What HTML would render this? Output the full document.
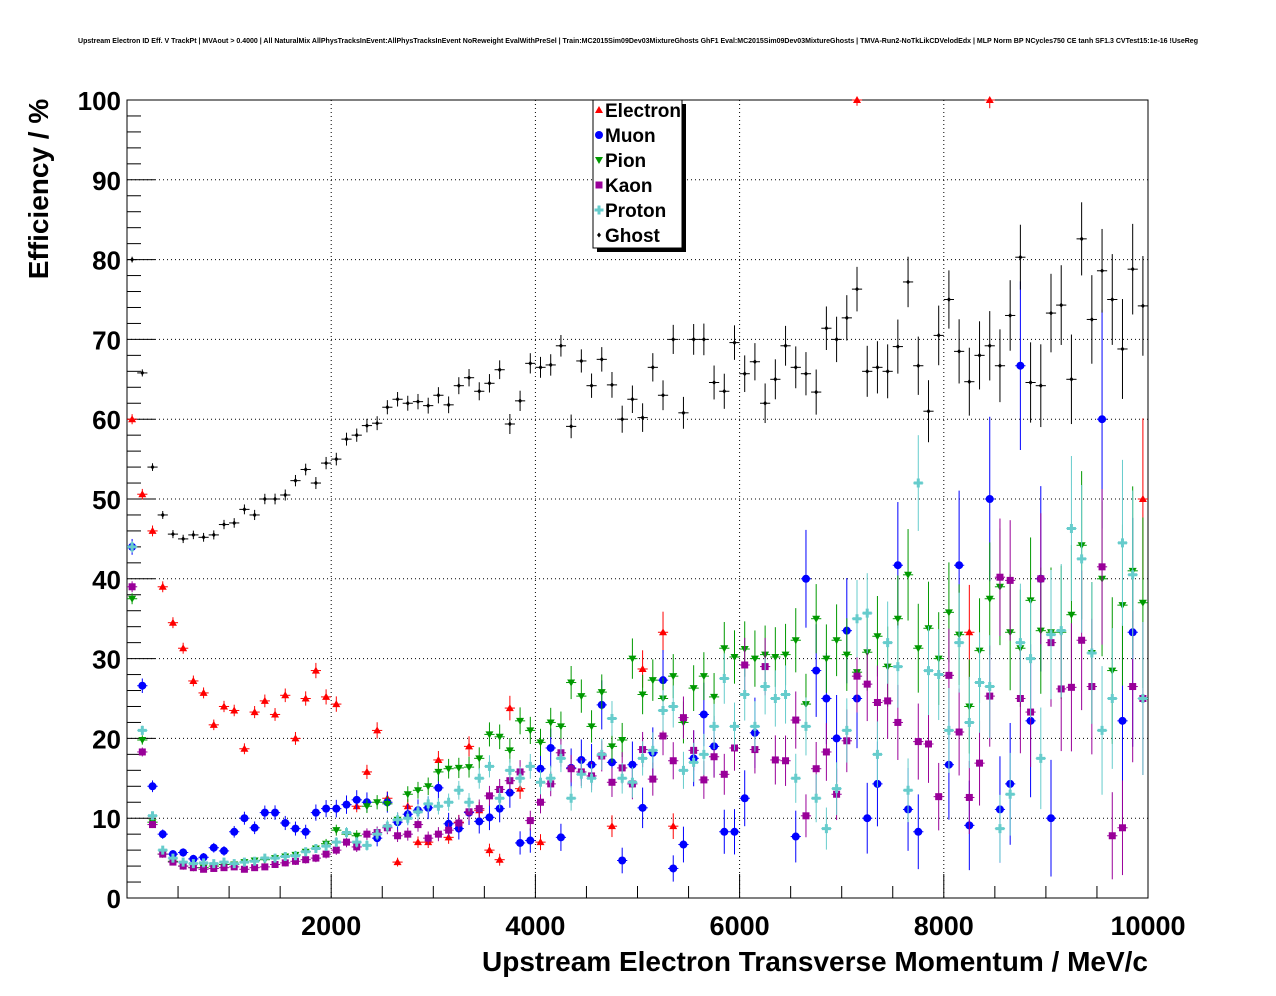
<!DOCTYPE html>
<html><head><meta charset="utf-8"><style>
html,body{margin:0;padding:0;background:#fff;}
svg{display:block;font-family:"Liberation Sans",sans-serif;}
</style></head><body>
<svg id="chart" width="1276" height="996" viewBox="0 0 1276 996" xmlns="http://www.w3.org/2000/svg">
<rect x="0" y="0" width="1276" height="996" fill="#fff"/>
<text x="638" y="43" font-size="7" font-weight="bold" text-anchor="middle" textLength="1120" lengthAdjust="spacingAndGlyphs">Upstream Electron ID Eff. V TrackPt | MVAout &gt; 0.4000 | All NaturalMix AllPhysTracksInEvent:AllPhysTracksInEvent NoReweight EvalWithPreSel | Train:MC2015Sim09Dev03MixtureGhosts GhF1 Eval:MC2015Sim09Dev03MixtureGhosts | TMVA-Run2-NoTkLikCDVelodEdx | MLP Norm BP NCycles750 CE tanh SF1.3 CVTest15:1e-16 !UseReg</text>
<g id="grid"></g>
<g id="axes"></g>
<g id="marks"></g>
<text x="48" y="189" font-size="28" font-weight="bold" text-anchor="middle" transform="rotate(-90 48 189)">Efficiency / %</text>
<text x="1148" y="971" font-size="28" font-weight="bold" text-anchor="end" textLength="666" lengthAdjust="spacingAndGlyphs">Upstream Electron Transverse Momentum / MeV/c</text>
<g id="legend">
<rect x="597" y="104" width="89" height="148" fill="#000"/>
<rect x="593" y="100" width="89" height="148" fill="#fff" stroke="#000" stroke-width="1"/>
</g>
</svg>
<script>
const xTicks = [2000, 4000, 6000, 8000, 10000];
const yTicks = [0, 10, 20, 30, 40, 50, 60, 70, 80, 90, 100];
const seriesNames = ["Electron", "Muon", "Pion", "Kaon", "Proton", "Ghost"];
const seriesColors = ["#ff0000", "#0000ff", "#009900", "#990099", "#66cccc", "#000000"];
const binWidth = 100;
const electron = [60,50.6,46,39,34.5,31.3,27.2,25.7,21.7,24,23.5,18.7,23.3,24.7,23,25.4,20,25,28.5,25.2,24.3,null,11.5,15.8,21,12.5,4.5,11.5,7,7,17.3,7.6,9.5,19,11,6,4.8,23.8,13.7,null,7,null,null,null,null,null,null,9,null,null,28.7,null,33.3,9,null,null,null,null,null,null,null,null,null,null,null,null,null,null,null,null,null,100,null,null,null,null,null,null,null,null,null,null,33.3,null,100,null,null,null,null,null,null,null,null,null,null,null,null,null,null,50];
const muon = [44,26.6,14,8,5.5,5.7,4.9,5.1,6.3,5.9,8.3,10,8.8,10.7,10.7,9.4,8.7,8.3,10.7,11.2,11.2,11.7,12.3,12,7.5,12,9.5,10.5,11,11.3,13.8,9.3,8.7,10.7,9.6,10.1,11.2,13.2,6.9,7.2,16.2,18.8,7.6,16.3,17.3,16.7,24.2,17,4.7,16.7,11.3,18.2,27.3,3.7,6.7,17.5,23,19,8.3,8.3,12.5,20.7,null,null,null,7.7,40,28.5,25,20,33.5,25,10,14.3,null,41.7,11.1,8.3,null,null,16.7,41.7,9.1,null,50,11.1,14.3,66.7,22.2,40,10,null,null,null,null,60,null,22.2,33.3,null];
const pion = [37.5,19.8,9.5,5.5,4.6,4,3.8,3.8,4,4.2,4.2,4.5,4.7,4.8,5,5.2,5.4,5.8,6.2,6.8,8.5,8,7.8,11.5,12,11.8,9.8,13,13.5,14,15.8,16.2,16.3,16.4,17.5,20.5,20.2,18.5,22.2,21,19.5,22,21.5,27,25.3,21.5,25.8,19,19.8,30,25.5,27.3,25,27.8,22,26.3,27.8,25.2,31.3,30.2,31.2,30,30.5,30.2,30.5,32.3,24.3,35,30,32.3,30.5,28.3,30.8,32.8,29,35,40.5,31.3,33.8,30,35.8,33,24,31,37.5,39,33.3,31.3,37.3,33.5,33.3,33.3,35.5,44.2,30.7,40,28.5,36.7,41,37];
const kaon = [39,18.3,9.2,5.5,4.5,4,3.8,3.6,3.7,3.8,3.9,3.6,3.8,3.9,4.2,4.4,4.6,4.8,5,5.5,6,7,6.4,8,8.2,8.8,7.8,8,9.2,7.5,8,8.5,9.4,10.8,11.2,12.8,13.6,14.7,15.8,9.7,12,14.3,18.2,16.2,15.8,15.3,17.8,14.5,16.3,14.3,18.6,14.9,20.3,17.2,22.6,18.5,14.8,17.7,15.5,18.8,29.2,18.6,29,17.3,17.2,22.3,10.3,16.2,18.3,13,19.7,27.8,26.8,24.5,24.7,22,null,19.6,19.3,12.7,27.9,20.8,12.6,16.9,25.3,40.2,39.8,25,23.3,40,32,26.2,26.4,32.3,26.5,41.5,7.8,8.8,26.5,25];
const proton = [44,21,10.3,6,5,4.5,4.3,4.4,4.3,4.5,4.3,4.5,4.6,5,5,5.2,5.3,5.8,6.2,6.5,7,8.2,7,6.6,8,9,9.8,10,10.8,11.8,11.5,12,13.5,12,15,16.5,12.5,16,15,16.5,14.5,15,17.5,12.5,15.5,15,18,22.5,15,14.5,17.5,18.5,23.5,24,16,17,18,21.5,27.5,21.5,25.5,21.5,26.5,25,25.5,15,21.5,12.5,8.7,13.7,21,35,35.7,18,32,29,13.5,52,28.5,28,21,32,22,27,26.5,8.7,13,32,30,17.5,33,33.5,46.3,42.5,30.7,21,25,44.5,40.5,25];
const ghost = [80,65.8,54,48,45.6,45,45.5,45.2,45.5,46.8,47,48.7,48,50,50,50.5,52.3,53.7,52,54.5,55,57.5,58,59.2,59.5,61.5,62.5,62,62.2,61.7,63,61.8,64.2,65.2,63.5,64.5,66.2,59.4,62.3,67,66.5,66.8,69.2,59.1,67.3,64.2,67.5,64.3,60,62.5,60.2,66.5,63,70,60.8,70,70,64.6,63.5,69.6,65.7,67.2,62,65,69.2,66.5,65.7,63.4,71.4,70,72.7,76.3,66,66.5,66,69.1,77.2,66.7,61,70.5,75,68.5,64.7,68,69.2,66.7,73,80.3,64.6,64.2,73.3,74.3,65,82.6,72.5,78.6,75,68.8,78.8,74.2];
const allSeries = [electron, muon, pion, kaon, proton, ghost];
const statScale = [6000, 2500, 5000, 5000, 5000, 12000];

const NS = "http://www.w3.org/2000/svg";
const X0 = 127, X1 = 1148, Y0 = 898, Y1 = 100;
const xs = v => X0 + (v / 10000) * (X1 - X0);
const ys = v => Y0 - (v / 100) * (Y0 - Y1);
function mk(tag, attrs, parent) {
  const e = document.createElementNS(NS, tag);
  for (const k in attrs) e.setAttribute(k, attrs[k]);
  parent.appendChild(e);
  return e;
}
const grid = document.getElementById("grid");
const axes = document.getElementById("axes");
const marks = document.getElementById("marks");

xTicks.forEach(t => {
  const l = mk("line", {x1: xs(t), x2: xs(t), y1: Y1, y2: Y0, stroke: "#000", "stroke-width": 1, "stroke-dasharray": "1,3"}, grid);
  
  
});
yTicks.forEach(t => {
  if (t === 0 || t === 100) return;
  const l = mk("line", {x1: X0, x2: X1, y1: ys(t), y2: ys(t), stroke: "#000", "stroke-width": 1, "stroke-dasharray": "1,3"}, grid);
  
  
});
const frame = mk("rect", {x: X0, y: Y1, width: X1 - X0, height: Y0 - Y1, fill: "none", stroke: "#000", "stroke-width": 1}, axes);


for (let v = 0; v <= 10000; v += 500) {
  const len = (v % 2000 === 0) ? 24 : 12;
  const l = mk("line", {x1: xs(v), x2: xs(v), y1: Y0, y2: Y0 - len, stroke: "#000"}, axes);
  
  
}
for (let v = 0; v <= 100; v += 2) {
  const len = (v % 10 === 0) ? 28 : 14;
  const l = mk("line", {x1: X0, x2: X0 + len, y1: ys(v), y2: ys(v), stroke: "#000"}, axes);
  
  
}
xTicks.forEach(t => {
  const tx = mk("text", {x: xs(t), y: 935, "font-size": 27, "font-weight": "bold", "text-anchor": "middle"}, axes);
  tx.textContent = t;
  
  
});
yTicks.forEach(t => {
  const tx = mk("text", {x: 121, y: ys(t) + 10, "font-size": 26, "font-weight": "bold", "text-anchor": "end"}, axes);
  tx.textContent = t;
  
  
});

function marker(kind, cx, cy, color, parent) {
  let e;
  if (kind === 0) e = mk("polygon", {points: `${cx},${cy-4} ${cx-4},${cy+3} ${cx+4},${cy+3}`, fill: color}, parent);
  else if (kind === 1) e = mk("circle", {cx: cx, cy: cy, r: 4, fill: color}, parent);
  else if (kind === 2) e = mk("polygon", {points: `${cx-4},${cy-3} ${cx+4},${cy-3} ${cx},${cy+4}`, fill: color}, parent);
  else if (kind === 3) e = mk("rect", {x: cx - 3.5, y: cy - 3.5, width: 7, height: 7, fill: color}, parent);
  else if (kind === 4) e = mk("path", {d: `M${cx-1.5},${cy-4.5}h3v3h3v3h-3v3h-3v-3h-3v-3h3z`, fill: color}, parent);
  else e = mk("polygon", {points: `${cx},${cy-2.5} ${cx+2},${cy} ${cx},${cy+2.5} ${cx-2},${cy}`, fill: color}, parent);
  return e;
}

allSeries.forEach((arr, s) => {
  const g = mk("g", {}, marks);
  
  
  const col = seriesColors[s];
  arr.forEach((v, i) => {
    if (v === null || v === undefined) return;
    const xc = (i + 0.5) * binWidth;
    const n = statScale[s] * Math.exp(-i / 18);
    let err = Math.sqrt(Math.max(v * (100 - v), 60)) / Math.sqrt(Math.max(n, 2));
    const cx = xs(xc), cy = ys(v);
    const eb = mk("line", {x1: cx, x2: cx, y1: ys(Math.min(100, v + err)), y2: ys(Math.max(0, v - err)), stroke: col, "stroke-width": 1}, g);
    
    
    const hb = mk("line", {x1: xs(xc - binWidth / 2), x2: xs(xc + binWidth / 2), y1: cy, y2: cy, stroke: col, "stroke-width": 1}, g);
    
    
    const m = marker(s, cx, cy, col, g);
    
    
  });
});

const leg = document.getElementById("legend");
seriesNames.forEach((nm, s) => {
  const yy = 110 + s * 25;
  const m = marker(s, 599, yy, seriesColors[s], leg);
  
  
  const t = mk("text", {x: 605, y: yy + 7, "font-size": 19, "font-weight": "bold"}, leg);
  t.textContent = nm;
  
  
});
</script>
</body></html>
